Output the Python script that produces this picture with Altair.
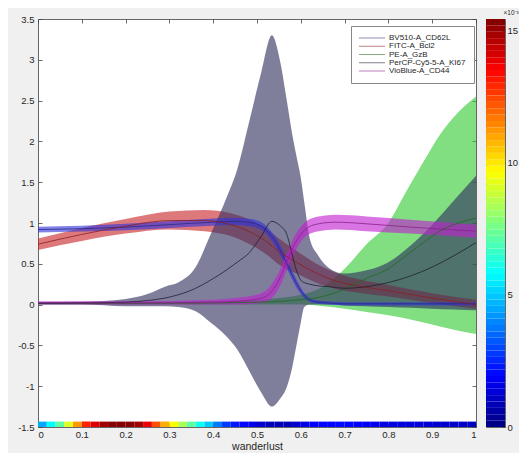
import altair as alt
import pandas as pd

# ---------------- data ----------------
series_names = ["BV510-A_CD62L", "FITC-A_Bcl2", "PE-A_GzB", "PerCP-Cy5-5-A_KI67", "VioBlue-A_CD44"]

# BV510-A_CD62L (blue band)
cd62l_x    = [0.00, 0.10, 0.20, 0.30, 0.40, 0.45, 0.49, 0.52, 0.55, 0.57, 0.59, 0.61, 0.63, 0.66, 0.70, 0.80, 0.90, 1.00]
cd62l_mean = [0.92, 0.93, 0.95, 0.98, 1.01, 1.02, 1.00, 0.92, 0.70, 0.48, 0.26, 0.10, 0.04, 0.02, 0.01, 0.01, 0.01, 0.01]
cd62l_lo   = [0.885, 0.895, 0.91, 0.94, 0.965, 0.975, 0.955, 0.87, 0.64, 0.42, 0.21, 0.07, 0.02, 0.00, -0.01, -0.01, -0.01, -0.01]
cd62l_hi   = [0.955, 0.965, 0.99, 1.02, 1.055, 1.065, 1.045, 0.97, 0.76, 0.54, 0.31, 0.13, 0.06, 0.04, 0.03, 0.03, 0.03, 0.03]

# FITC-A_Bcl2 (red band)
bcl2_x    = [0.00, 0.10, 0.20, 0.30, 0.38, 0.44, 0.48, 0.52, 0.55, 0.59, 0.63, 0.68, 0.74, 0.80, 0.90, 1.00]
bcl2_mean = [0.74, 0.86, 0.96, 1.03, 1.03, 0.98, 0.90, 0.78, 0.65, 0.52, 0.40, 0.29, 0.22, 0.17, 0.08, 0.00]
bcl2_lo   = [0.67, 0.78, 0.87, 0.92, 0.90, 0.84, 0.75, 0.62, 0.49, 0.38, 0.28, 0.19, 0.14, 0.10, 0.02, -0.05]
bcl2_hi   = [0.81, 0.94, 1.05, 1.14, 1.16, 1.12, 1.05, 0.94, 0.81, 0.66, 0.52, 0.39, 0.30, 0.24, 0.14, 0.06]

# PE-A_GzB (green band)
gzb_x    = [0.00, 0.20, 0.40, 0.50, 0.55, 0.60, 0.65, 0.70, 0.75, 0.80, 0.84, 0.88, 0.92, 0.96, 1.00]
gzb_mean = [0.015, 0.015, 0.02, 0.03, 0.04, 0.06, 0.10, 0.19, 0.32, 0.44, 0.60, 0.76, 0.91, 1.00, 1.06]
gzb_lo   = [0.00, 0.00, 0.00, 0.00, 0.00, 0.00, -0.02, -0.05, -0.09, -0.13, -0.17, -0.22, -0.27, -0.32, -0.36]
gzb_hi   = [0.03, 0.03, 0.04, 0.06, 0.08, 0.12, 0.22, 0.44, 0.74, 1.00, 1.38, 1.75, 2.10, 2.36, 2.55]

# PerCP-Cy5-5-A_KI67 (slate band)
ki67_x    = [0.00, 0.10, 0.20, 0.25, 0.29, 0.32, 0.36, 0.394, 0.432, 0.455, 0.483, 0.51, 0.534, 0.552, 0.568, 0.58, 0.59, 0.60, 0.608, 0.62, 0.64, 0.664, 0.70, 0.75, 0.80, 0.85, 0.90, 0.95, 1.00]
ki67_mean = [0.015, 0.02, 0.03, 0.05, 0.08, 0.12, 0.20, 0.30, 0.43, 0.52, 0.64, 0.84, 1.02, 0.97, 0.86, 0.62, 0.42, 0.30, 0.27, 0.25, 0.23, 0.22, 0.20, 0.22, 0.27, 0.35, 0.46, 0.60, 0.76]
ki67_lo   = [0.00, 0.00, -0.02, -0.02, -0.02, -0.03, -0.08, -0.22, -0.40, -0.55, -0.82, -1.08, -1.25, -1.16, -1.01, -0.78, -0.50, -0.22, -0.03, 0.00, 0.00, 0.00, -0.01, -0.02, -0.03, -0.04, -0.05, -0.06, -0.07]
ki67_hi   = [0.03, 0.035, 0.07, 0.13, 0.22, 0.27, 0.46, 0.86, 1.33, 1.66, 2.26, 2.85, 3.30, 3.00, 2.50, 2.10, 1.82, 1.55, 1.25, 0.82, 0.60, 0.45, 0.38, 0.42, 0.52, 0.72, 0.98, 1.28, 1.58]

# VioBlue-A_CD44 (magenta band)
cd44_x    = [0.00, 0.20, 0.40, 0.45, 0.49, 0.52, 0.55, 0.57, 0.59, 0.61, 0.64, 0.68, 0.75, 0.85, 1.00]
cd44_mean = [0.02, 0.02, 0.03, 0.04, 0.06, 0.10, 0.30, 0.55, 0.78, 0.92, 0.99, 1.01, 0.99, 0.95, 0.90]
cd44_lo   = [0.00, 0.00, 0.00, 0.00, 0.01, 0.03, 0.20, 0.45, 0.68, 0.83, 0.90, 0.92, 0.90, 0.87, 0.82]
cd44_hi   = [0.04, 0.04, 0.06, 0.08, 0.11, 0.17, 0.40, 0.65, 0.88, 1.01, 1.08, 1.10, 1.08, 1.04, 0.98]

# colour strip along the x axis (bin start, value x1e-3)
strip_x0 = [0.00, 0.02, 0.04, 0.06, 0.08, 0.10, 0.12, 0.14, 0.16, 0.18,
            0.20, 0.22, 0.24, 0.26, 0.28, 0.30, 0.32, 0.34, 0.36, 0.38,
            0.40, 0.42, 0.44, 0.46, 0.48, 0.50, 0.52, 0.54, 0.56, 0.58,
            0.60, 0.62, 0.64, 0.66, 0.68, 0.70, 0.72, 0.74, 0.76, 0.78,
            0.80, 0.82, 0.84, 0.86, 0.88, 0.90, 0.92, 0.94, 0.96, 0.98]
strip_val = [4.5, 5.8, 7.2, 9.2, 11.2, 13.0, 14.0, 14.9, 15.3, 15.4,
             15.3, 14.9, 13.8, 12.3, 10.9, 9.6, 8.4, 7.2, 6.0, 5.0,
             3.8, 2.8, 2.3, 2.0, 1.6, 1.2, 0.9, 0.8, 0.9, 1.2,
             1.6, 1.9, 2.0, 2.0, 2.1, 2.0, 1.9, 1.8, 1.7, 1.6,
             1.5, 1.4, 1.4, 1.4, 1.3, 1.3, 1.2, 1.2, 1.1, 1.0]
STRIP_W = 0.02
STRIP_Y0, STRIP_Y1 = -1.5, -1.434

x_ticks = [0, 0.1, 0.2, 0.3, 0.4, 0.5, 0.6, 0.7, 0.8, 0.9, 1]
y_ticks = [-1.5, -1, -0.5, 0, 0.5, 1, 1.5, 2, 2.5, 3, 3.5]
cb_ticks = [0, 5, 10, 15]
CMAX = 15.45

band_fill = {"BV510-A_CD62L": "#3333dd", "FITC-A_Bcl2": "#c8262a", "PE-A_GzB": "#33cc33",
             "PerCP-Cy5-5-A_KI67": "#303060", "VioBlue-A_CD44": "#c020d0"}
line_colors = ["#2a2a80", "#8a1f1f", "#1f6a1f", "#1e1e30", "#8a1f8a"]

# ---------------- frames ----------------
def frame(name, xs, mean, lo, hi):
    return pd.DataFrame({"series": name, "x": xs, "mean": mean, "lo": lo, "hi": hi})

dfs = {
    "BV510-A_CD62L": frame("BV510-A_CD62L", cd62l_x, cd62l_mean, cd62l_lo, cd62l_hi),
    "FITC-A_Bcl2": frame("FITC-A_Bcl2", bcl2_x, bcl2_mean, bcl2_lo, bcl2_hi),
    "PE-A_GzB": frame("PE-A_GzB", gzb_x, gzb_mean, gzb_lo, gzb_hi),
    "PerCP-Cy5-5-A_KI67": frame("PerCP-Cy5-5-A_KI67", ki67_x, ki67_mean, ki67_lo, ki67_hi),
    "VioBlue-A_CD44": frame("VioBlue-A_CD44", cd44_x, cd44_mean, cd44_lo, cd44_hi),
}
all_df = pd.concat(list(dfs.values()), ignore_index=True)
strip_df = pd.DataFrame({"x0": strip_x0, "x1": [v + STRIP_W for v in strip_x0], "v": strip_val,
                         "y0": STRIP_Y0, "y1": STRIP_Y1})
n_lev = 64
cb_df = pd.DataFrame({"lo": [CMAX * i / n_lev for i in range(n_lev)],
                      "hi": [CMAX * (i + 1) / n_lev for i in range(n_lev)],
                      "mid": [CMAX * (i + 0.5) / n_lev for i in range(n_lev)]})

# ---------------- scales / axes ----------------
FONT = "Liberation Sans"
W_PLOT, H_PLOT = 438, 408
CB_W = 19
XSC = alt.Scale(domain=[0, 1], nice=False, zero=False)
YSC = alt.Scale(domain=[-1.5, 3.5], nice=False, zero=False)
JET = alt.Scale(domain=[0, CMAX * 0.125, CMAX * 0.375, CMAX * 0.625, CMAX * 0.875, CMAX],
                range=["#00007f", "#0000ff", "#00ffff", "#ffff00", "#ff0000", "#7f0000"],
                interpolate="rgb")
LBL = "'' + datum.value"

ax_bottom = alt.Axis(orient="bottom", values=x_ticks, labelExpr=LBL, offset=-4, tickSize=4,
                     domain=False, grid=False, labelPadding=2, title="wanderlust", titlePadding=3,
                     labelFontSize=9.5, titleFontSize=10.5, titleFontWeight="normal")
ax_left = alt.Axis(orient="left", values=y_ticks, labelExpr=LBL, offset=-4, tickSize=4,
                   domain=False, grid=False, labelPadding=4, title=None, labelFontSize=9.5)
ax_top = alt.Axis(orient="top", values=x_ticks, labels=False, offset=-4, tickSize=4,
                  domain=False, grid=False, title=None)
ax_right = alt.Axis(orient="right", values=y_ticks, labels=False, offset=-4, tickSize=4,
                    domain=False, grid=False, title=None)


def band(name):
    return alt.Chart(dfs[name]).mark_area(interpolate="monotone", color=band_fill[name],
                                          opacity=0.62).encode(
        x=alt.X("x:Q", scale=XSC, axis=None),
        y=alt.Y("lo:Q", scale=YSC, axis=None),
        y2="hi:Q")


axes_main = alt.Chart(all_df).mark_point(opacity=0, size=1).encode(
    x=alt.X("x:Q", scale=XSC, axis=ax_bottom),
    y=alt.Y("mean:Q", scale=YSC, axis=ax_left))
axes_mirror = alt.Chart(all_df).mark_point(opacity=0, size=1).encode(
    x=alt.X("x:Q", scale=XSC, axis=ax_top),
    y=alt.Y("mean:Q", scale=YSC, axis=ax_right))

legend = alt.Legend(orient="none", legendX=313, legendY=7, title=None,
                    symbolType="M-1.143,0H6.286", symbolSize=49, symbolStrokeWidth=1,
                    symbolOpacity=0.55, labelFontSize=8, labelFont=FONT, labelColor="#262626",
                    fillColor="white", strokeColor="#888", padding=8, rowPadding=0.25,
                    labelOffset=22, symbolOffset=0)

lines = alt.Chart(all_df).mark_line(interpolate="monotone", strokeWidth=0.8).encode(
    x=alt.X("x:Q", scale=XSC, axis=None),
    y=alt.Y("mean:Q", scale=YSC, axis=None),
    stroke=alt.Stroke("series:N", scale=alt.Scale(domain=series_names, range=line_colors),
                      legend=legend),
    detail="series:N")

strip = alt.Chart(strip_df).mark_rect().encode(
    x=alt.X("x0:Q", scale=XSC, axis=None), x2="x1:Q",
    y=alt.Y("y0:Q", scale=YSC, axis=None), y2="y1:Q",
    color=alt.Color("v:Q", scale=JET, legend=None))

main = alt.layer(
    axes_main, band("PE-A_GzB"), band("FITC-A_Bcl2"), band("PerCP-Cy5-5-A_KI67"),
    band("BV510-A_CD62L"), band("VioBlue-A_CD44"), lines, strip, axes_mirror
).resolve_axis(x="independent", y="independent").properties(width=W_PLOT, height=H_PLOT)

cbar = alt.Chart(cb_df).mark_rect().encode(
    y=alt.Y("lo:Q", scale=alt.Scale(domain=[0, CMAX], nice=False, zero=False),
            axis=alt.Axis(orient="right", values=cb_ticks, offset=-3, tickSize=3, domain=False,
                          grid=False, labelPadding=2, labelFontSize=9.5,
                          title="×10⁻³", titleAngle=0, titleAlign="left", titleBaseline="top",
                          titleX=1, titleY=-10, titleFontSize=6.5, titleFontWeight="normal")),
    y2="hi:Q",
    x=alt.value(0), x2=alt.value(CB_W),
    color=alt.Color("mid:Q", scale=JET, legend=None)
).properties(width=CB_W, height=H_PLOT)

chart = alt.hconcat(main, cbar, spacing=10, bounds="flush").resolve_scale(
    stroke="independent").resolve_legend(stroke="independent").properties(
    padding={"left": 9, "top": 0, "right": 0, "bottom": 0}
).configure(background="#f0f0f0", font=FONT).configure_view(
    stroke="#666", strokeWidth=1, fill="white"
).configure_axis(labelFont=FONT, titleFont=FONT, labelColor="#262626", titleColor="#262626",
                 tickColor="#444", tickWidth=0.8)

chart.save("out.html", embed_options={"renderer": "svg", "actions": False})
